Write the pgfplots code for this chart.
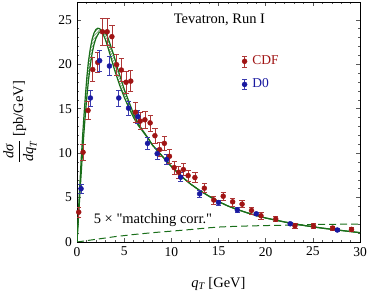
\documentclass[border=0pt]{standalone}
\usepackage{amsmath}
\usepackage{fontspec}
\setmainfont{Liberation Serif}
\newfontfamily\plainserif{Liberation Serif}[Ligatures=ResetAll]
\usepackage{pgfplots}
\pgfplotsset{compat=1.18}
\usepgfplotslibrary{fillbetween}
\usetikzlibrary{patterns}
\definecolor{cdf}{RGB}{160,20,20}
\definecolor{dzero}{RGB}{25,25,160}
\definecolor{thgreen}{RGB}{25,110,25}
\pgfplotstableread{
x y e
0.18 3.36 0.6
0.64 10.1 0.9
1.17 14.8 1.0
1.67 19.4 1.35
2.2 20.2 1.1
2.7 23.65 1.5
3.2 23.65 1.5
3.7 23.1 1.25
4.2 19.95 1.2
4.7 19.35 1.3
5.2 17.97 1.25
5.7 18.1 1.2
6.2 14.6 1.1
6.7 13.6 0.95
7.2 13.75 1.0
7.75 13.4 0.9
8.26 11.96 0.85
8.76 10.4 0.8
9.26 11.1 0.8
9.8 9.64 0.75
10.3 8.37 0.7
10.78 7.85 0.7
11.28 8.15 0.7
11.78 7.47 0.65
12.5 7.25 0.55
13.5 6.05 0.5
14.5 4.72 0.45
15.5 5.15 0.45
16.5 4.52 0.45
17.5 4.26 0.4
18.5 3.55 0.4
19.5 2.95 0.35
21.07 2.58 0.3
23.1 1.83 0.25
25.07 1.8 0.25
27.1 1.57 0.2
29.1 1.42 0.2
}\cdfdata
\pgfplotstableread{
x y e
0.43 6.0 0.5
1.42 16.2 0.9
2.4 20.4 1.15
3.44 19.8 1.1
4.43 16.2 0.9
5.46 15.06 0.8
6.45 14.1 0.75
7.48 11.1 0.7
8.5 9.94 0.6
9.5 9.27 0.55
11.0 7.29 0.5
13.0 5.42 0.4
15.0 4.44 0.3
17.0 3.6 0.25
19.0 3.17 0.22
22.6 2.05 0.18
27.6 1.35 0.15
}\dzerodata
\pgfplotstableread{
x y
0 0
0.1 2.2
0.2 4.4
0.3 6.4
0.45 9.4
0.6 12.0
0.75 14.4
0.9 16.6
1.05 18.6
1.2 20.2
1.4 21.7
1.6 22.8
1.8 23.5
2.0 23.9
2.2 24.05
2.4 24.0
2.6 23.75
2.8 23.3
3.0 22.8
3.25 22.0
3.5 21.1
3.75 20.2
4.0 19.3
4.25 18.5
4.5 17.7
5.0 16.3
5.5 15.1
6.0 14.0
6.5 13.1
7.0 12.4
7.5 11.7
8.0 10.9
8.5 10.3
9.0 9.7
10 8.5
11 7.45
12 6.55
13 5.8
14 5.15
15 4.55
16 4.05
17 3.65
18 3.3
19 2.98
20 2.7
22 2.25
24 1.87
26 1.56
28 1.3
30 1.05
}\curveA
\pgfplotstableread{
x y
0 0
0.2 3.5
0.4 7.0
0.6 10.3
0.8 13.2
1.0 15.8
1.2 18.0
1.4 19.8
1.6 21.2
1.8 22.2
2.0 22.9
2.3 23.5
2.6 23.8
2.9 23.65
3.2 23.2
3.5 22.3
3.8 21.35
4.1 20.3
4.4 19.2
4.7 18.2
5.0 17.2
5.5 15.8
6.0 14.4
6.5 13.3
7.0 12.5
7.5 11.75
8.0 10.9
8.5 10.3
9.0 9.7
10 8.5
11 7.45
12 6.55
13 5.8
14 5.15
15 4.55
16 4.05
17 3.65
18 3.3
19 2.98
20 2.7
22 2.25
24 1.87
26 1.56
28 1.3
30 1.05
}\curveB
\pgfplotstableread{
x y
0 0
1 0.15
2 0.3
3 0.45
4 0.6
5 0.72
6 0.84
8 1.05
10 1.22
12 1.4
14 1.6
15 1.68
16 1.73
18 1.8
20 1.85
22 1.89
24 1.94
26 1.98
28 2.0
30 2.01
}\matching
\begin{document}
\fontsize{14.5bp}{16bp}\selectfont
\begin{tikzpicture}
\begin{axis}[
  name=ax,
  scale only axis,
  width=283bp, height=240bp,
  xmin=0, xmax=30, ymin=0, ymax=27,
  xtick={0,5,...,30}, ytick={0,5,...,25},
  minor x tick num=4, minor y tick num=4,
  tick align=inside,
  major tick length=4bp, minor tick length=2bp,
  tick style={gray!70!black, line width=0.4pt},
  axis line style={line width=0.5pt},
  /pgf/number format/assume math mode=true,
  ticklabel style={font=\fontsize{13.5bp}{15bp}\selectfont},
  xlabel={\textit{q}$_{\textit{T}}$ [GeV]},
  ylabel={$\displaystyle\frac{\textit{dσ}}{\textit{dq}_{\textit{T}}}$ [pb/GeV]},
  label style={font=\fontsize{14.5bp}{16bp}\selectfont},
  xlabel style={yshift=-11bp},
  ylabel style={yshift=12bp},
  legend style={draw=none, fill=none, at={(axis cs:17.45,21.2)}, anchor=north west, font=\fontsize{13.5bp}{15bp}\selectfont, row sep=8bp, inner sep=0pt},
  legend cell align=left,
]
\addplot[name path=A, thgreen, line width=1.2pt, forget plot] table[x=x,y=y] {\curveA};
\addplot[name path=B, thgreen, line width=1.2pt, forget plot] table[x=x,y=y] {\curveB};
\addplot[pattern=north east lines, pattern color=thgreen, forget plot] fill between[of=A and B];
\addplot[thgreen, line width=1.0pt, dash pattern=on 7bp off 4bp, forget plot] table[x=x,y=y] {\matching};
\addplot[only marks, mark=*, mark size=2.5bp, color=cdf, mark options={fill=cdf}, forget plot,
  error bars/.cd, y dir=both, y explicit,
  error bar style={cdf!85!white, line width=0.6pt},
  error mark options={cdf!85!white, line width=0.6pt, mark size=2.6bp, rotate=90},
  ] table[x=x,y=y,y error=e] {\cdfdata};
\addplot[only marks, mark=*, mark size=2.5bp, color=dzero, mark options={fill=dzero}, forget plot,
  error bars/.cd, y dir=both, y explicit,
  error bar style={dzero!85!white, line width=0.6pt},
  error mark options={dzero!85!white, line width=0.6pt, mark size=2.6bp, rotate=90},
  ] table[x=x,y=y,y error=e] {\dzerodata};
\addlegendimage{legend image code/.code={
  \draw[cdf!85!white, line width=0.6pt] (3bp,-5.5bp) -- (3bp,5.5bp) (0.5bp,5.5bp) -- (5.5bp,5.5bp) (0.5bp,-5.5bp) -- (5.5bp,-5.5bp);
  \fill[cdf] (3bp,0) circle (2.5bp);}}
\addlegendentry{\hspace{3bp}\textcolor{cdf}{CDF}}
\addlegendimage{legend image code/.code={
  \draw[dzero!85!white, line width=0.6pt] (3bp,-5bp) -- (3bp,5bp) (0.5bp,5bp) -- (5.5bp,5bp) (0.5bp,-5bp) -- (5.5bp,-5bp);
  \fill[dzero] (3bp,0) circle (2.5bp);}}
\addlegendentry{\hspace{3bp}\textcolor{dzero}{D0}}
\node[anchor=center] at (axis cs:15.1,25.0) {Tevatron, Run I};
\node[anchor=west] at (axis cs:1.25,2.45) {5 × {\plainserif"matching corr."}};
\end{axis}
\pgfresetboundingbox
\path[use as bounding box] ([shift={(-77bp,-49bp)}]ax.south west) rectangle ([shift={(8bp,2bp)}]ax.north east);
\end{tikzpicture}
\end{document}
